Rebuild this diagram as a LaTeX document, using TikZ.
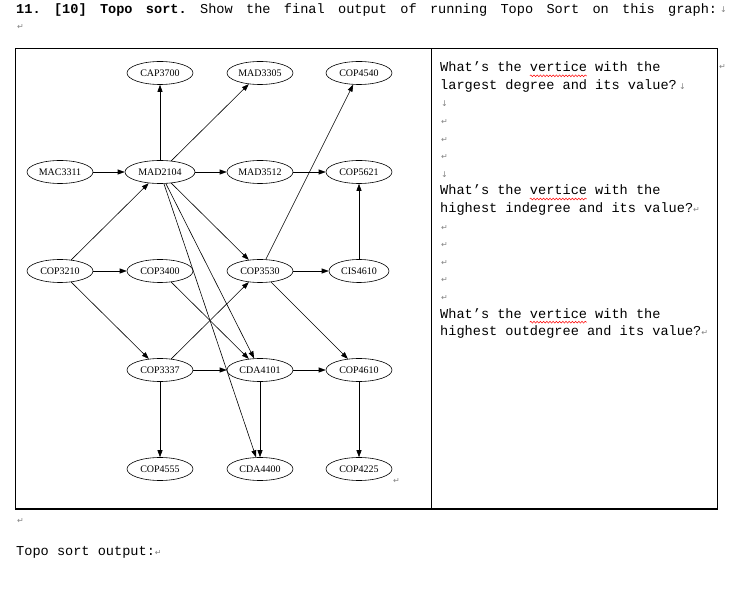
\documentclass[tikz,border=0pt]{standalone}
\usepackage{fontspec}
\usetikzlibrary{shapes.geometric,arrows.meta,decorations.pathmorphing}
\newfontfamily\docfont{Liberation Mono}
\newfontfamily\gfont{Liberation Serif}
\newfontfamily\mkfont{DejaVu Sans}
\definecolor{markgray}{RGB}{130,130,130}
\newcommand{\parmk}{{\mkfont\fontsize{8}{8}\selectfont\color{markgray}↵}}
\newcommand{\brkmk}{{\mkfont\fontsize{8}{8}\selectfont\color{markgray}↓}}
\begin{document}
\begin{tikzpicture}[x=1pt,y=-1pt,
  vtx/.style={ellipse,draw,line width=0.6pt,minimum width=66pt,minimum height=23pt,inner sep=0pt,font=\gfont\fontsize{10}{11}\selectfont},
  edge/.style={line width=0.6pt,-{Triangle[length=7pt,width=5pt]}},
  txt/.style={anchor=base west,inner sep=0pt,font=\docfont\fontsize{13.6}{16}\selectfont},
  mk/.style={anchor=base west,inner sep=0pt},
  squig/.style={red,line width=0.5pt,decorate,decoration={snake,amplitude=0.9pt,segment length=3.2pt}},
  tbl/.style={line width=1pt}
]
\useasboundingbox (0,0) rectangle (734,609);

% header
\node[txt] (hdr) at (16,14) {\makebox[701pt][l]{\textbf{11.}\hfill\textbf{[10]}\hfill\textbf{Topo}\hfill\textbf{sort.}\hfill Show\hfill the\hfill final\hfill output\hfill of\hfill running\hfill Topo\hfill Sort\hfill on\hfill this\hfill graph:}};
\node[mk] (hdrmk) at (720,13) {\brkmk};
\node[mk] (hdrpar) at (17,30) {\parmk};

% table
\draw[tbl] (15,49) rectangle (717,509);
\draw[tbl] (431,49) -- (431,509);
\node[mk] (rowmk) at (719,70) {\parmk};

% graph nodes
\node[vtx] (CAP3700) at (160,73) {CAP3700};
\node[vtx] (MAD3305) at (260,73) {MAD3305};
\node[vtx] (COP4540) at (359,73) {COP4540};
\node[vtx] (MAC3311) at (60,172) {MAC3311};
\node[vtx,minimum width=70pt] (MAD2104) at (160,172) {MAD2104};
\node[vtx] (MAD3512) at (260,172) {MAD3512};
\node[vtx] (COP5621) at (359,172) {COP5621};
\node[vtx] (COP3210) at (60,271) {COP3210};
\node[vtx] (COP3400) at (160,271) {COP3400};
\node[vtx] (COP3530) at (260,271) {COP3530};
\node[vtx,minimum width=60pt] (CIS4610) at (359,271) {CIS4610};
\node[vtx] (COP3337) at (160,370) {COP3337};
\node[vtx] (CDA4101) at (260,370) {CDA4101};
\node[vtx] (COP4610) at (359,370) {COP4610};
\node[vtx] (COP4555) at (160,469) {COP4555};
\node[vtx] (CDA4400) at (260,469) {CDA4400};
\node[vtx] (COP4225) at (359,469) {COP4225};
\node[mk] (graphmk) at (393,484) {\parmk};

% edges
\draw[edge] (MAC3311) -- (MAD2104);
\draw[edge] (MAD2104) -- (CAP3700);
\draw[edge] (MAD2104) -- (MAD3305);
\draw[edge] (MAD2104) -- (MAD3512);
\draw[edge] (MAD3512) -- (COP5621);
\draw[edge] (CIS4610) -- (COP5621);
\draw[edge] (COP3530) -- (COP4540);
\draw[edge] (COP3530) -- (CIS4610);
\draw[edge] (COP3210) -- (MAD2104);
\draw[edge] (COP3210) -- (COP3400);
\draw[edge] (COP3210) -- (COP3337);
\draw[edge] (MAD2104) -- (COP3530);
\draw[edge] (MAD2104) -- (CDA4101);
\draw[edge] (MAD2104) -- (CDA4400);
\draw[edge] (COP3400) -- (CDA4101);
\draw[edge] (COP3337) -- (COP3530);
\draw[edge] (COP3337) -- (CDA4101);
\draw[edge] (COP3337) -- (COP4555);
\draw[edge] (CDA4101) -- (COP4610);
\draw[edge] (CDA4101) -- (CDA4400);
\draw[edge] (COP3530) -- (COP4610);
\draw[edge] (COP4610) -- (COP4225);

% right cell text
\node[txt] (q1a) at (440,71.7) {What’s the vertice with the};
\node[txt] (q1b) at (440,89.3) {largest degree and its value?\,\brkmk};
\node[mk] (m2) at (441,106.9) {\brkmk};
\node[mk] (m3) at (441,124.5) {\parmk};
\node[mk] (m4) at (441,142.1) {\parmk};
\node[mk] (m5) at (441,159.7) {\parmk};
\node[mk] (m6) at (441,177.3) {\brkmk};
\node[txt] (q2a) at (440,194.9) {What’s the vertice with the};
\node[txt] (q2b) at (440,212.5) {highest indegree and its value?\parmk};
\node[mk] (m9) at (441,230.1) {\parmk};
\node[mk] (m10) at (441,247.7) {\parmk};
\node[mk] (m11) at (441,265.3) {\parmk};
\node[mk] (m12) at (441,282.9) {\parmk};
\node[mk] (m13) at (441,300.5) {\parmk};
\node[txt] (q3a) at (440,318.1) {What’s the vertice with the};
\node[txt] (q3b) at (440,335.7) {highest outdegree and its value?\parmk};

\draw[squig] (529.8,75.8) -- (586.9,75.8);
\draw[squig] (529.8,199.0) -- (586.9,199.0);
\draw[squig] (529.8,322.2) -- (586.9,322.2);

% below table
\node[mk] (belowmk) at (17,523) {\parmk};
\node[txt] (out) at (16,555) {Topo sort output:\parmk};
\end{tikzpicture}
\end{document}
